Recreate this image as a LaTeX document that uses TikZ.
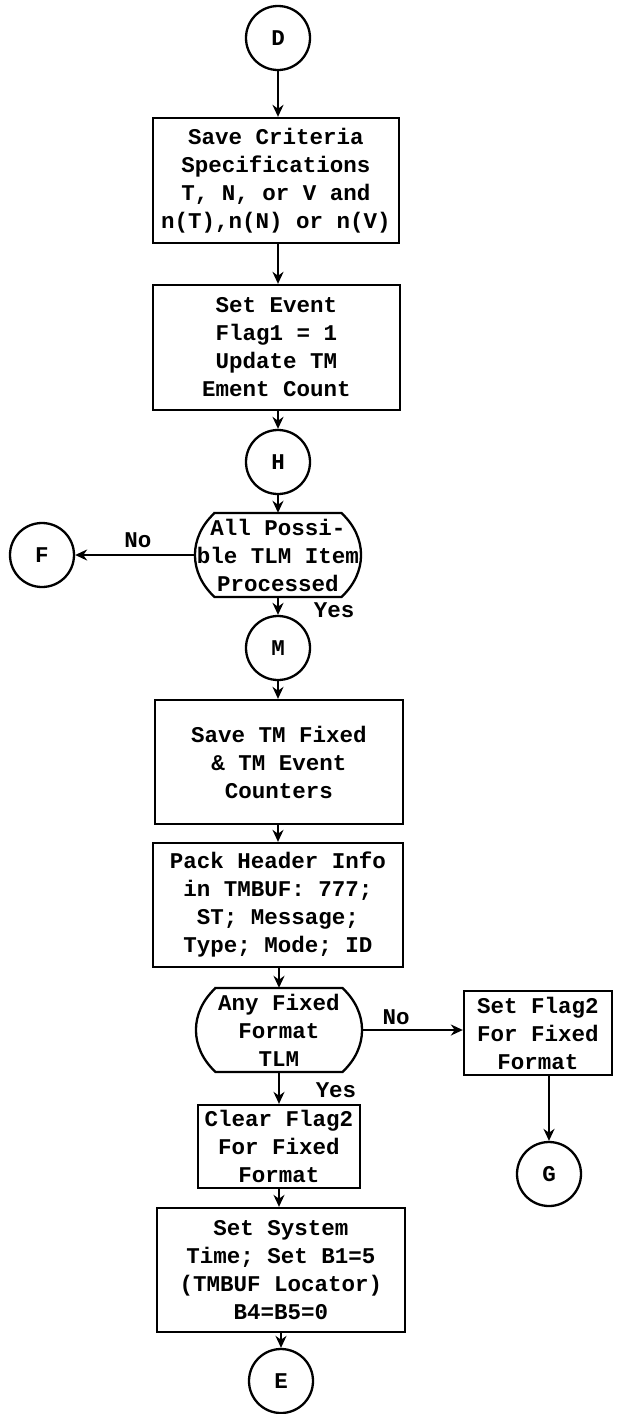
\documentclass[tikz,border=0pt]{standalone}
\usepackage{fontspec}
\setmonofont{Liberation Mono}
\usetikzlibrary{arrows.meta}
\begin{document}
\begin{tikzpicture}[x=1pt,y=1pt,
  every node/.style={font=\ttfamily\bfseries\fontsize{22.5}{28}\selectfont, align=center, inner sep=0pt},
  stepbox/.style={draw, line width=2.3pt, rectangle},
  conn/.style={draw, line width=2.3pt, circle, minimum size=64pt},
  decnode/.style={rectangle, minimum width=166pt, minimum height=84pt},
  decline/.style={line width=2.3pt},
  arr/.style={line width=2.3pt, -{Stealth[length=12pt,width=11pt]}},
  plain/.style={line width=2.3pt}
]
\useasboundingbox[fill=white] (0,0) rectangle (622,-1414);

\node[conn] (D) at (278,-38) {D};
\node[stepbox, minimum width=246pt, minimum height=125pt] (b1) at (276,-180.5)
  {Save Criteria\\Specifications\\T, N, or V and\\n(T),n(N) or n(V)};
\node[stepbox, minimum width=247pt, minimum height=125pt] (b2) at (276.5,-347.5)
  {Set Event\\Flag1 = 1\\Update TM\\Ement Count};
\node[conn] (H) at (278,-462) {H};
\node[decnode] (q1) at (278,-555) {All Possi-\\ble TLM Item\\Processed};
\node[conn] (F) at (42,-555) {F};
\node[conn] (M) at (278,-648) {M};
\node[stepbox, minimum width=248pt, minimum height=124pt] (b3) at (279,-762)
  {Save TM Fixed\\ \& TM Event\\Counters};
\node[stepbox, minimum width=250pt, minimum height=124pt] (b4) at (278,-905)
  {Pack Header Info\\in TMBUF: 777;\\ST; Message;\\Type; Mode; ID};
\node[decnode] (q2) at (279,-1030) {Any Fixed\\Format\\TLM};
\node[stepbox, minimum width=148pt, minimum height=84pt] (sf) at (538,-1033)
  {Set Flag2\\For Fixed\\Format};
\node[conn] (G) at (549,-1174) {G};
\node[stepbox, minimum width=162pt, minimum height=83pt] (cf) at (279,-1146.5)
  {Clear Flag2\\For Fixed\\Format};
\node[stepbox, minimum width=248pt, minimum height=124pt] (b5) at (281,-1270)
  {Set System\\Time; Set B1=5\\(TMBUF Locator)\\B4=B5=0};
\node[conn] (E) at (281,-1381) {E};

\node (no1) at (138,-540) {No};
\node (yes1) at (334,-610) {Yes};
\node (no2) at (396,-1017) {No};
\node (yes2) at (336,-1090) {Yes};

% decision outlines
\draw[decline, shift={(q1.center)}] (-63.4,42) -- (63.4,42)
  arc[start angle=40.25, end angle=-40.25, x radius=83, y radius=65]
  -- (-63.4,-42)
  arc[start angle=220.25, end angle=139.75, x radius=83, y radius=65] -- cycle;
\draw[decline, shift={(q2.center)}] (-63.4,42) -- (63.4,42)
  arc[start angle=40.25, end angle=-40.25, x radius=83, y radius=65]
  -- (-63.4,-42)
  arc[start angle=220.25, end angle=139.75, x radius=83, y radius=65] -- cycle;

% connectors
\draw[arr] (D.south) -- (D.south |- b1.north);
\draw[arr] (b1.south -| D.south) -- (D.south |- b2.north);
\draw[arr] (b2.south -| H.north) -- (H.north);
\draw[arr] (H.south) -- (H.south |- q1.north);
\draw[arr] (q1.west) -- (F.east);
\draw[arr] (q1.south) -- (M.north);
\draw[arr] (M.south) -- (M.south |- b3.north);
\draw[arr] (b3.south -| M.south) -- (M.south |- b4.north);
\draw[arr] (b4.south -| q2.north) -- (q2.north);
\draw[arr] (q2.east) -- (q2.east -| sf.west);
\draw[arr] (q2.south) -- (cf.north);
\draw[arr] (cf.south) -- (cf.south |- b5.north);
\draw[arr] (b5.south -| E.north) -- (E.north);
\draw[arr] (sf.south -| G.north) -- (G.north);
\end{tikzpicture}
\end{document}
